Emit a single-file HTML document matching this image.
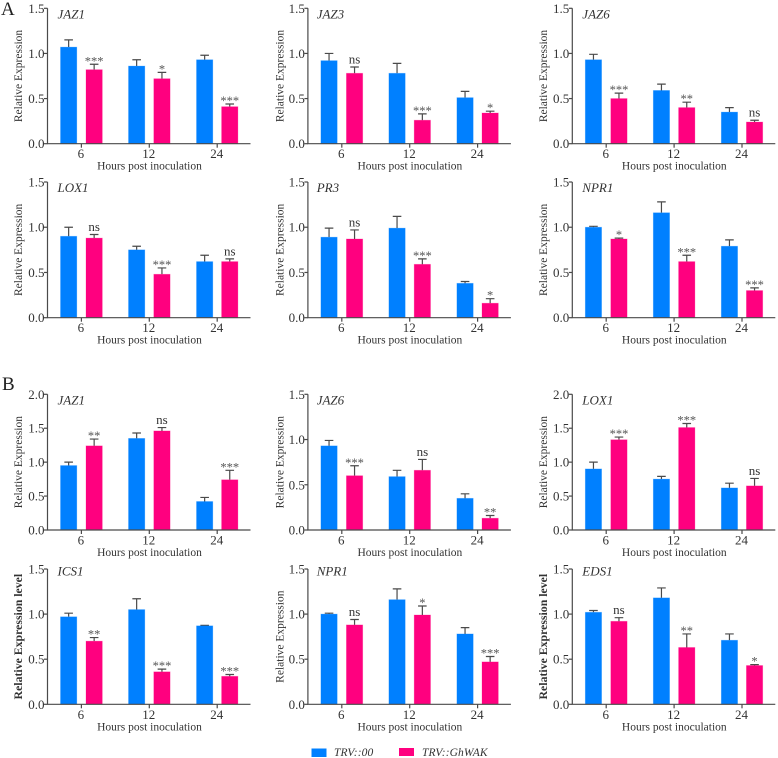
<!DOCTYPE html>
<html lang="en">
<head>
<meta charset="utf-8">
<title>Relative expression charts</title>
<style>
html,body{margin:0;padding:0;background:#fff;}
svg{display:block;font-family:"Liberation Serif",serif;}
text{fill:#333;}
</style>
</head>
<body>
<svg id="figure" width="778" height="758" viewBox="0 0 778 758" xmlns="http://www.w3.org/2000/svg">
  <text x="1" y="15" font-size="19" style="fill:#222">A</text>
  <text x="2" y="390" font-size="19" style="fill:#222">B</text>
  <rect x="311.5" y="748.5" width="15" height="8.5" fill="#0080ff"/>
  <text x="334" y="756" font-size="11.5" font-style="italic" letter-spacing="0.1">TRV::00</text>
  <rect x="399" y="748" width="15" height="8" fill="#ff007f"/>
  <text x="422" y="756" font-size="11.5" font-style="italic" letter-spacing="0.1">TRV::GhWAK</text>
</svg>
<script>
const categories = ['6', '12', '24'];
const genes = ['JAZ1', 'JAZ3', 'JAZ6', 'LOX1', 'PR3', 'NPR1', 'JAZ1', 'JAZ6', 'LOX1', 'ICS1', 'NPR1', 'EDS1'];
const yMaxes = [1.5, 1.5, 1.5, 1.5, 1.5, 1.5, 2, 1.5, 2, 1.5, 1.5, 1.5];
const yLabels = ['Relative Expression', 'Relative Expression', 'Relative Expression', 'Relative Expression', 'Relative Expression', 'Relative Expression', 'Relative Expression', 'Relative Expression', 'Relative Expression', 'Relative Expression level', 'Relative Expression', 'Relative Expression level'];
const blueValues = [
  [1.07, 0.86, 0.93], [0.92, 0.78, 0.51], [0.93, 0.59, 0.35],
  [0.90, 0.75, 0.62], [0.89, 0.99, 0.38], [1.00, 1.16, 0.79],
  [0.95, 1.35, 0.42], [0.93, 0.59, 0.35], [0.90, 0.75, 0.62],
  [0.97, 1.05, 0.87], [1.00, 1.16, 0.78], [1.02, 1.18, 0.71]
];
const blueErrors = [
  [0.08, 0.07, 0.05], [0.08, 0.11, 0.07], [0.06, 0.07, 0.05],
  [0.10, 0.04, 0.07], [0.10, 0.13, 0.02], [0.01, 0.12, 0.07],
  [0.05, 0.08, 0.06], [0.06, 0.07, 0.05], [0.10, 0.04, 0.07],
  [0.04, 0.12, 0.005], [0.01, 0.12, 0.07], [0.02, 0.11, 0.07]
];
const pinkValues = [
  [0.82, 0.72, 0.41], [0.78, 0.26, 0.34], [0.50, 0.40, 0.24],
  [0.88, 0.48, 0.62], [0.87, 0.59, 0.16], [0.87, 0.62, 0.30],
  [1.24, 1.46, 0.74], [0.60, 0.66, 0.13], [1.33, 1.51, 0.65],
  [0.70, 0.36, 0.31], [0.88, 0.99, 0.47], [0.92, 0.63, 0.43]
];
const pinkErrors = [
  [0.06, 0.07, 0.03], [0.07, 0.07, 0.02], [0.06, 0.06, 0.02],
  [0.04, 0.07, 0.03], [0.10, 0.06, 0.05], [0.01, 0.07, 0.03],
  [0.10, 0.05, 0.14], [0.11, 0.12, 0.03], [0.04, 0.06, 0.11],
  [0.04, 0.03, 0.02], [0.06, 0.10, 0.06], [0.04, 0.15, 0.01]
];
const significance = [
  ['***', '*', '***'], ['ns', '***', '*'], ['***', '**', 'ns'],
  ['ns', '***', 'ns'], ['ns', '***', '*'], ['*', '***', '***'],
  ['**', 'ns', '***'], ['***', 'ns', '**'], ['***', '***', 'ns'],
  ['**', '***', '***'], ['ns', '*', '***'], ['ns', '**', '*']
];
const tickStep = 0.5;

const AXIS_COLOR = '#4a4a4a';
const columnX = [47.5, 307.9, 572.3];
const rowBase = [143.7, 317.7, 530, 704.3];
const rowTop = [8.3, 182, 394.3, 569];
const titleOffset = [10, 10, 10, 6.5];
const svg = document.getElementById('figure');
const NS = 'http://www.w3.org/2000/svg';

function make(tag, attrs, parent) {
  const el = document.createElementNS(NS, tag);
  for (const k in attrs) el.setAttribute(k, attrs[k]);
  parent.appendChild(el);
  return el;
}

genes.forEach(function (gene, p) {
  const col = p % 3;
  const row = Math.floor(p / 3);
  const x0 = columnX[col];
  const base = rowBase[row];
  const top = rowTop[row];
  const yScale = function (v) { return base - (v / yMaxes[p]) * (base - top); };
  const barWidth = 16.3;
  const blueX = function (i) { return x0 + 13 + i * 68; };
  const pinkX = function (i) { return x0 + 38.5 + i * 67.8; };

  const g = make('g', {}, svg);
  
  

  categories.forEach(function (cat, i) {
    [[blueValues, blueErrors, blueX, '#0080ff', 'trv00'], [pinkValues, pinkErrors, pinkX, '#ff007f', 'ghwak']].forEach(function (s) {
      const v = s[0][p][i];
      const e = s[1][p][i];
      const bx = s[2](i);
      const cx = bx + barWidth / 2;
      const stem = make('path', { d: 'M' + cx + ' ' + yScale(v) + 'V' + yScale(v + e) + 'M' + (cx - 4.3) + ' ' + yScale(v + e) + 'H' + (cx + 4.3), stroke: AXIS_COLOR, 'stroke-width': 1.2, fill: 'none' }, g);
      
      
      const bar = make('rect', { x: bx, y: yScale(v), width: barWidth, height: base - yScale(v), fill: s[3], stroke: s[3], 'stroke-opacity': 0.3, 'stroke-width': 0.8 }, g);
      
      
    });
    const capY = yScale(pinkValues[p][i] + pinkErrors[p][i]);
    const label = significance[p][i];
    const isNs = label === 'ns';
    const sig = make('text', { x: pinkX(i) + barWidth / 2, y: isNs ? capY - 3.5 : capY + 1, 'font-size': isNs ? 13 : 12.5, 'text-anchor': 'middle', style: isNs ? 'fill:#333' : 'fill:#555' }, g);
    sig.textContent = label;
    
    

    const cx = (blueX(i) + pinkX(i) + barWidth) / 2;
    const tick = make('line', { x1: cx, x2: cx, y1: base, y2: base + 4, stroke: AXIS_COLOR, 'stroke-width': 1.2 }, g);
    
    
    const tl = make('text', { x: cx - 0.5, y: base + 14.5, 'font-size': 13, 'text-anchor': 'middle' }, g);
    tl.textContent = cat;
    
    
  });

  for (let t = 0; t <= yMaxes[p] + 1e-9; t += tickStep) {
    const ty = yScale(t);
    const tick = make('line', { x1: x0 - 3.5, x2: x0, y1: ty, y2: ty, stroke: AXIS_COLOR, 'stroke-width': 1.2 }, g);
    
    
    const tl = make('text', { x: x0 - 3, y: ty + 4.5, 'font-size': 13, 'text-anchor': 'end' }, g);
    tl.textContent = t.toFixed(1);
    
    
  }

  const axes = make('path', { d: 'M' + x0 + ' ' + top + 'V' + base + 'H' + (x0 + 203), stroke: AXIS_COLOR, 'stroke-width': 1.2, fill: 'none' }, g);
  
  

  const title = make('text', { x: x0 + (col === 1 ? 8.8 : 10), y: top + titleOffset[row], 'font-size': 13, 'font-style': 'italic' }, g);
  title.textContent = gene;
  
  

  const xt = make('text', { x: x0 + 102, y: base + 26, 'font-size': 11.5, 'text-anchor': 'middle' }, g);
  xt.textContent = 'Hours post inoculation';
  
  

  const bold = yLabels[p].indexOf('level') >= 0;
  const ly = (base + top) / 2;
  const lx = x0 - (col === 1 ? 24.5 : 25.5);
  const yt = make('text', { x: lx, y: ly, 'font-size': bold ? 11.8 : 11.5, 'font-weight': bold ? 'bold' : 'normal', 'text-anchor': 'middle', transform: 'rotate(-90 ' + lx + ' ' + ly + ')' }, g);
  yt.textContent = yLabels[p];
  
  
});
</script>
</body>
</html>
